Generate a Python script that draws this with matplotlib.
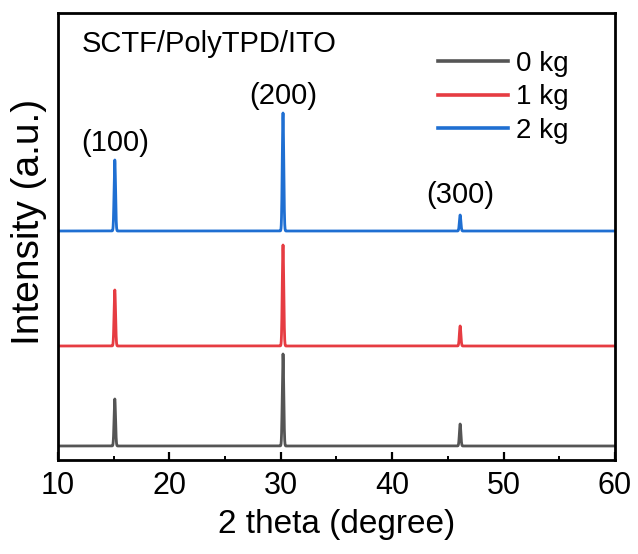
import numpy as np
import matplotlib.pyplot as plt

plt.rcParams['font.family'] = ['Liberation Sans', 'DejaVu Sans']

# peak positions (2 theta, degree) and their labels
peak_pos = [15.1, 30.2, 46.1]
peak_hkl = ['(100)', '(200)', '(300)']

# samples: label, baseline offset, peak heights (arb. units)
labels = ['0 kg', '1 kg', '2 kg']
offsets = [14, 114, 229]
heights_0kg = [47, 92, 22]
heights_1kg = [56, 101, 20]
heights_2kg = [71, 118, 16]
colors = ['#555555', '#e63c42', '#1f6fd2']

x = np.linspace(10, 60, 10001)
sigma = 0.065

def pattern(offset, heights):
    y = np.full_like(x, offset, dtype=float)
    for p, h in zip(peak_pos, heights):
        y += h * np.exp(-(x - p) ** 2 / (2 * sigma ** 2))
    return y

fig = plt.figure(figsize=(6.38, 5.54), dpi=100)
ax = fig.add_axes([0.0909, 0.1697, 0.873, 0.8068])

for lab, off, hs, c in zip(labels, offsets,
                           [heights_0kg, heights_1kg, heights_2kg], colors):
    ax.plot(x, pattern(off, hs), color=c, lw=2, label=lab)

ax.set_xlim(10, 60)
ax.set_ylim(0, 447)
ax.set_xticks([10, 20, 30, 40, 50, 60])
ax.set_xticks([15, 25, 35, 45, 55], minor=True)
ax.set_yticks([])
ax.tick_params(axis='x', which='major', direction='in', length=6, width=1.6,
               labelsize=22, pad=8)
ax.tick_params(axis='x', which='minor', direction='in', length=3, width=1.4)
for s in ax.spines.values():
    s.set_linewidth(2)

ax.set_xlabel('2 theta (degree)', fontsize=24, labelpad=6)
ax.set_ylabel('Intensity (a.u.)', fontsize=28)
ax.yaxis.set_label_coords(-0.019, 0.533)

# Miller indices above the top pattern
lab_y = [317, 364, 265]
for p, t, ly in zip(peak_pos, peak_hkl, lab_y):
    ax.text(p, ly, t, fontsize=21, ha='center', va='center')

ax.text(0.043, 0.913, 'SCTF/PolyTPD/ITO', transform=ax.transAxes,
        fontsize=21, ha='left', va='baseline')

leg = ax.legend(loc='upper left', bbox_to_anchor=(0.6625, 0.94), frameon=False,
                fontsize=20, handlelength=2.5, handletextpad=0.29,
                labelspacing=0.27, borderaxespad=0)
for h in leg.get_lines():
    h.set_linewidth(2.6)

fig.savefig('out.png', dpi=100)
